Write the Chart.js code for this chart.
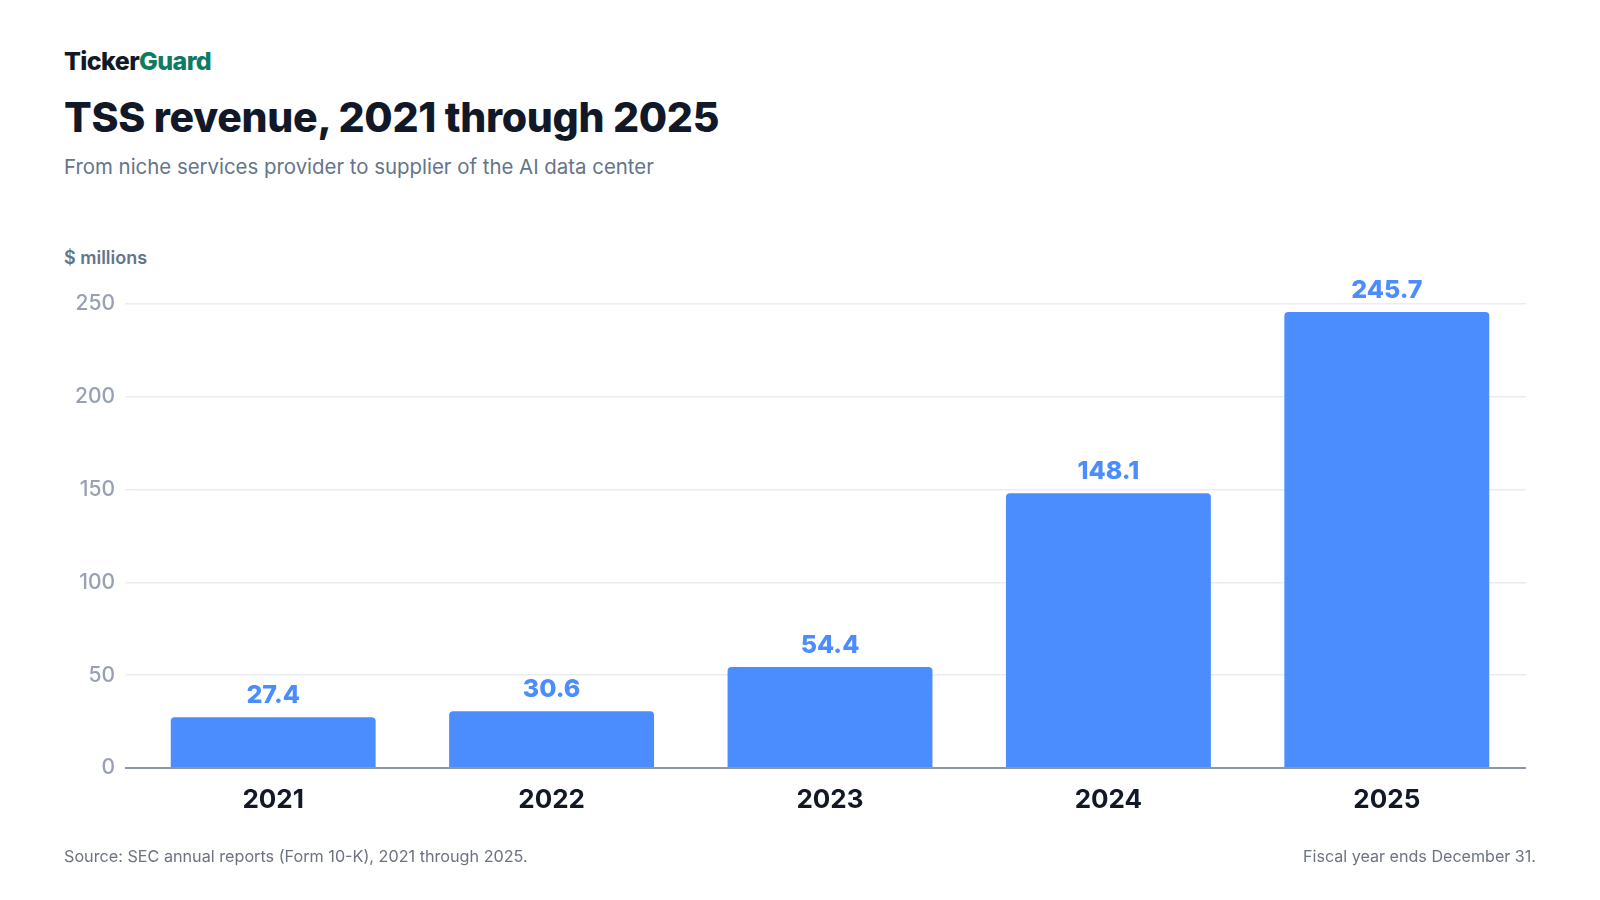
<!DOCTYPE html>
<html lang="en">
<head>
    <meta charset="UTF-8">
    <title>TSS revenue, 2021 through 2025</title>
    <script src="https://cdn.jsdelivr.net/npm/chart.js"></script>
    <style>
        html, body { margin: 0; padding: 0; background: #ffffff; }
        body { width: 1600px; height: 900px; position: relative; overflow: hidden; font-family: Inter, "Noto Sans", sans-serif; }
        .txt { position: absolute; line-height: 1; white-space: nowrap; }
        .brand { left: 64px; top: 49px; font-size: 25px; font-weight: 800; color: #111827; letter-spacing: -0.6px; }
        .brand span { color: #0f7b63; }
        .title { left: 64px; top: 97px; font-size: 41px; font-weight: 800; color: #111827; letter-spacing: -0.3px; }
        .subtitle { left: 64px; top: 157px; font-size: 20.4px; color: #64748b; }
        .unit { left: 64px; top: 249px; font-size: 18px; font-weight: 600; color: #64748b; }
        .source { left: 64px; top: 848px; font-size: 16.2px; color: #6b7280; }
        .note { right: 64px; top: 848px; font-size: 16.1px; color: #6b7280; }
        #wrap { position: absolute; left: 0; top: 0; width: 1600px; height: 900px; }
    </style>
</head>
<body>
    <div class="txt brand">Ticker<span>Guard</span></div>
    <div class="txt title">TSS revenue, 2021 through 2025</div>
    <div class="txt subtitle">From niche services provider to supplier of the AI data center</div>
    <div class="txt unit">$ millions</div>

    <div id="wrap"><canvas id="myChart" width="1600" height="900"></canvas></div>

    <div class="txt source">Source: SEC annual reports (Form 10-K), 2021 through 2025.</div>
    <div class="txt note">Fiscal year ends December 31.</div>

    <script>
        // chart data
        const years = ["2021", "2022", "2023", "2024", "2025"];
        const revenue = [27.4, 30.6, 54.4, 148.1, 245.7];
        const yTicks = [0, 50, 100, 150, 200, 250];

        const barColor = "#4b8dff";

        // value labels above each bar
        const valueLabels = {
            id: "valueLabels",
            afterDatasetsDraw(chart) {
                const ctx = chart.ctx;
                const meta = chart.getDatasetMeta(0);
                ctx.save();
                ctx.font = "800 25px Inter";
                ctx.fillStyle = barColor;
                ctx.textAlign = "center";
                ctx.textBaseline = "alphabetic";
                meta.data.forEach((bar, i) => {
                    ctx.fillText(revenue[i].toFixed(1), bar.x, bar.y - 14);
                });
                ctx.restore();
            }
        };

        const ctx = document.getElementById("myChart").getContext("2d");

        new Chart(ctx, {
            type: "bar",
            data: {
                labels: years,
                datasets: [{
                    label: "Revenue ($ millions)",
                    data: revenue,
                    backgroundColor: barColor,
                    borderRadius: { topLeft: 4, topRight: 4 },
                    borderSkipped: "bottom",
                    categoryPercentage: 1,
                    barPercentage: 0.736
                }]
            },
            options: {
                responsive: false,
                animation: false,
                devicePixelRatio: 1,
                layout: { padding: { left: 0, top: 304, right: 74, bottom: 0 } },
                plugins: {
                    legend: { display: false },
                    tooltip: { enabled: false }
                },
                scales: {
                    x: {
                        grid: { display: false },
                        border: { display: false },
                        ticks: {
                            color: "#111827",
                            font: { family: "Inter", size: 26, weight: "700" },
                            padding: 9
                        },
                        afterFit(scale) { scale.height = 132; }
                    },
                    y: {
                        min: 0,
                        max: 250,
                        border: { display: false },
                        afterBuildTicks(scale) { scale.ticks = yTicks.map(v => ({ value: v })); },
                        afterFit(scale) { scale.width = 134; },
                        grid: {
                            drawTicks: true,
                            tickLength: 9,
                            color: c => c.tick && c.tick.value === 0 ? "#8e97a6" : "#e9ecf1",
                            tickColor: c => c.tick && c.tick.value === 0 ? "#8e97a6" : "#e9ecf1",
                            lineWidth: c => c.tick && c.tick.value === 0 ? 2 : 1.5
                        },
                        ticks: {
                            color: "#97a1b3",
                            font: { family: "Inter", size: 21, weight: "500" },
                            padding: 10
                        }
                    }
                }
            },
            plugins: [valueLabels]
        });
    </script>
</body>
</html>
